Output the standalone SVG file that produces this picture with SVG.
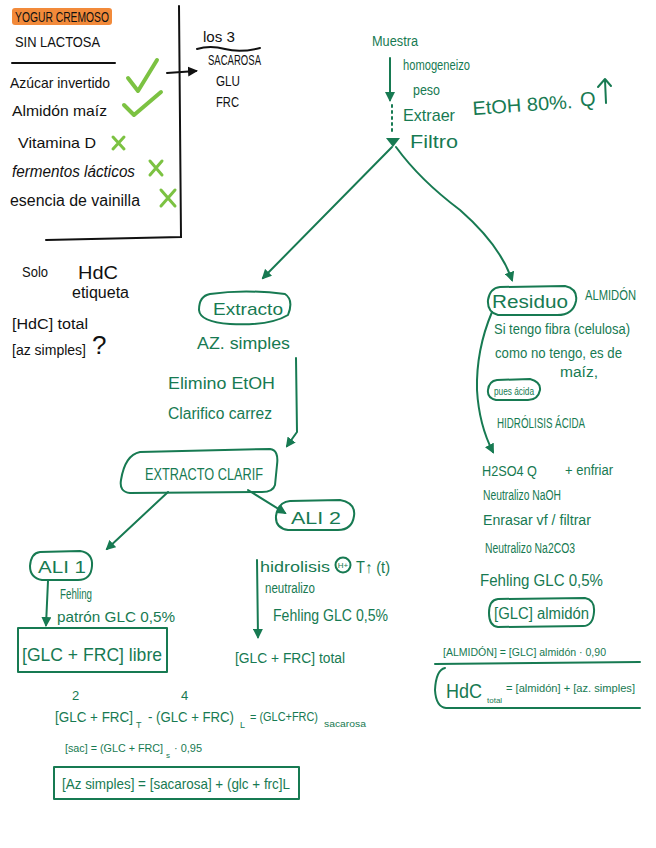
<svg xmlns="http://www.w3.org/2000/svg" width="656" height="848" viewBox="0 0 656 848">
<style>
text{font-family:"Liberation Sans","DejaVu Sans",sans-serif}
.k{fill:#111;font-size:14px}
.g{fill:#177a52;font-size:14px}
.gs{stroke:#177a52;stroke-width:2;fill:none;stroke-linecap:round;stroke-linejoin:round}
.ks{stroke:#111;stroke-width:2;fill:none;stroke-linecap:round}
.ck{stroke:#7cc242;stroke-width:4;fill:none;stroke-linecap:round;stroke-linejoin:round}
.cx{stroke:#7cc242;stroke-width:3;fill:none;stroke-linecap:round}
</style>
<defs>
<marker id="ag" viewBox="0 0 10 10" refX="8" refY="5" markerWidth="5" markerHeight="5" orient="auto-start-reverse"><path d="M0,0L10,5L0,10z" fill="#177a52"/></marker>
<marker id="ak" viewBox="0 0 10 10" refX="8" refY="5" markerWidth="5" markerHeight="5" orient="auto"><path d="M0,0L10,5L0,10z" fill="#111"/></marker>
</defs>
<rect width="656" height="848" fill="#fff"/>

<g id="ingredientes">
<rect x="12" y="8" width="100" height="17" fill="#f28a3a" rx="3"/>
<text class="k" x="15" y="22" textLength="94" lengthAdjust="spacingAndGlyphs">YOGUR CREMOSO</text>
<text class="k" x="15" y="47" textLength="85" lengthAdjust="spacingAndGlyphs">SIN LACTOSA</text>
<line class="ks" x1="12" y1="63" x2="115" y2="63"/>
<text class="k" x="10" y="88" style="font-size:15px" textLength="100" lengthAdjust="spacingAndGlyphs">Azúcar invertido</text>
<path class="ck" d="M128,78L138,91L157,60"/>
<text class="k" x="12" y="116" style="font-size:15px" textLength="95" lengthAdjust="spacingAndGlyphs">Almidón maíz</text>
<path class="ck" d="M124,105L134,115L161,92"/>
<text class="k" x="18" y="148" style="font-size:15px" textLength="78" lengthAdjust="spacingAndGlyphs">Vitamina D</text>
<path class="cx" d="M113,137L124,149M124,137L113,149"/>
<text class="k" x="12" y="177" style="font-size:16px;font-style:italic" textLength="123" lengthAdjust="spacingAndGlyphs">fermentos lácticos</text>
<path class="cx" d="M150,161L162,175M162,161L150,175"/>
<text class="k" x="10" y="206" style="font-size:16px" textLength="130" lengthAdjust="spacingAndGlyphs">esencia de vainilla</text>
<path class="cx" d="M161,190L175,206M175,190L161,206"/>
<path class="ks" d="M179,6L181,237L46,240"/>
</g>

<g id="los3">
<text class="k" x="203" y="42" textLength="32" lengthAdjust="spacingAndGlyphs">los 3</text>
<path class="ks" d="M197,49Q210,45 225,49T260,48" stroke-width="1.5"/>
<text class="k" x="208" y="65" textLength="53" lengthAdjust="spacingAndGlyphs">SACAROSA</text>
<text class="k" x="216" y="86" textLength="24" lengthAdjust="spacingAndGlyphs">GLU</text>
<text class="k" x="216" y="107" textLength="23" lengthAdjust="spacingAndGlyphs">FRC</text>
</g>

<g id="nota">
<text class="k" x="22" y="277" style="font-size:15px" textLength="26" lengthAdjust="spacingAndGlyphs">Solo</text>
<text class="k" x="78" y="279" style="font-size:19px" textLength="40" lengthAdjust="spacingAndGlyphs">HdC</text>
<text class="k" x="72" y="298" style="font-size:16px" textLength="57" lengthAdjust="spacingAndGlyphs">etiqueta</text>
<text class="k" x="12" y="329" textLength="76" lengthAdjust="spacingAndGlyphs">[HdC] total</text>
<text class="k" x="12" y="355" textLength="74" lengthAdjust="spacingAndGlyphs">[az simples]</text>
<text class="k" x="92" y="354" style="font-size:26px">?</text>
</g>

<g id="muestra">
<text class="g" x="372" y="46" textLength="46" lengthAdjust="spacingAndGlyphs">Muestra</text>
<text class="g" x="403" y="70" textLength="67" lengthAdjust="spacingAndGlyphs">homogeneizo</text>
<text class="g" x="413" y="95" textLength="27" lengthAdjust="spacingAndGlyphs">peso</text>
<text class="g" x="403" y="121" style="font-size:17px" textLength="52" lengthAdjust="spacingAndGlyphs">Extraer</text>
<text class="g" x="473" y="115" style="font-size:19px" textLength="100" lengthAdjust="spacingAndGlyphs" transform="rotate(-4 473 115)">EtOH 80%.</text>
<text class="g" x="580" y="106" style="font-size:20px">Q</text>
<path class="gs" d="M606,103L605,80M598,87L605,79L611,86"/>
</g>

<g id="filtro">
<text class="g" x="410" y="148" style="font-size:18px" textLength="48" lengthAdjust="spacingAndGlyphs">Filtro</text>
</g>

<g id="extracto">
<path class="gs" d="M210,294Q245,289 285,294Q294,300 288,315Q270,326 230,324Q200,322 199,310Q199,296 210,294z"/>
<text class="g" x="213" y="315" style="font-size:17px" textLength="70" lengthAdjust="spacingAndGlyphs">Extracto</text>
<text class="g" x="197" y="349" style="font-size:17px" textLength="93" lengthAdjust="spacingAndGlyphs">AZ. simples</text>
<text class="g" x="168" y="389" style="font-size:16px" textLength="107" lengthAdjust="spacingAndGlyphs">Elimino EtOH</text>
<text class="g" x="168" y="419" style="font-size:16px" textLength="104" lengthAdjust="spacingAndGlyphs">Clarifico carrez</text>
</g>

<g id="extracto_clarif">
<path class="gs" d="M140,452L270,449Q279,450 277,465L275,485Q273,492 262,492L130,493Q119,492 121,480Q125,455 140,452z"/>
<text class="g" x="145" y="480" style="font-size:16px" textLength="118" lengthAdjust="spacingAndGlyphs">EXTRACTO CLARIF</text>
</g>

<g id="ali1">
<path class="gs" d="M40,552L80,551Q93,553 92,566Q91,580 78,580L42,580Q30,578 30,566Q31,553 40,552z"/>
<text class="g" x="38" y="573" style="font-size:16px" textLength="48" lengthAdjust="spacingAndGlyphs">ALI 1</text>
<text class="g" x="60" y="599" textLength="32" lengthAdjust="spacingAndGlyphs">Fehling</text>
<text class="g" x="57" y="622" style="font-size:15px" textLength="118" lengthAdjust="spacingAndGlyphs">patrón GLC 0,5%</text>
</g>

<g id="libre">
<rect x="18" y="628" width="149" height="44" class="gs" stroke-width="1.6"/>
<text class="g" x="22" y="661" style="font-size:19px" textLength="140" lengthAdjust="spacingAndGlyphs">[GLC + FRC] libre</text>
</g>

<g id="ali2">
<path class="gs" d="M290,501L340,500Q356,503 354,516Q352,530 338,530L288,530Q275,528 276,516Q278,502 290,501z"/>
<text class="g" x="291" y="524" style="font-size:16px" textLength="50" lengthAdjust="spacingAndGlyphs">ALI 2</text>
<text class="g" x="260" y="572" textLength="70" lengthAdjust="spacingAndGlyphs">hidrolisis</text>
<circle cx="343" cy="565" r="7.5" class="gs" stroke-width="1.4"/>
<text class="g" x="343" y="568" style="font-size:8px" text-anchor="middle">H+</text>
<text class="g" x="356" y="573" style="font-size:16px" textLength="34" lengthAdjust="spacingAndGlyphs">T↑ (t)</text>
<text class="g" x="265" y="593" textLength="50" lengthAdjust="spacingAndGlyphs">neutralizo</text>
<text class="g" x="273" y="621" style="font-size:16px" textLength="115" lengthAdjust="spacingAndGlyphs">Fehling GLC 0,5%</text>
<text class="g" x="235" y="663" textLength="110" lengthAdjust="spacingAndGlyphs">[GLC + FRC] total</text>
</g>

<g id="residuo">
<path class="gs" d="M500,287L565,286Q578,289 576,301Q573,316 555,315L498,315Q487,312 488,300Q490,288 500,287z"/>
<text class="g" x="492" y="308" style="font-size:18px" textLength="76" lengthAdjust="spacingAndGlyphs">Residuo</text>
<text class="g" x="585" y="300" textLength="51" lengthAdjust="spacingAndGlyphs">ALMIDÓN</text>
<text class="g" x="494" y="334" textLength="136" lengthAdjust="spacingAndGlyphs">Si tengo fibra (celulosa)</text>
<text class="g" x="495" y="358" textLength="127" lengthAdjust="spacingAndGlyphs">como no tengo, es de</text>
<text class="g" x="560" y="377" textLength="38" lengthAdjust="spacingAndGlyphs">maíz,</text>
<path class="gs" d="M497,380L530,379Q541,382 540,390Q538,400 528,400L496,400Q487,398 488,390Q489,381 497,380z"/>
<text class="g" x="494" y="395" style="font-size:11px" textLength="40" lengthAdjust="spacingAndGlyphs">pues ácida</text>
<text class="g" x="497" y="428" textLength="88" lengthAdjust="spacingAndGlyphs">HIDRÓLISIS ÁCIDA</text>
</g>

<g id="hidrolisis_acida">
<text class="g" x="482" y="476" textLength="55" lengthAdjust="spacingAndGlyphs">H2SO4 Q</text>
<text class="g" x="565" y="475" textLength="48" lengthAdjust="spacingAndGlyphs">+ enfriar</text>
<text class="g" x="483" y="500" textLength="78" lengthAdjust="spacingAndGlyphs">Neutralizo NaOH</text>
<text class="g" x="483" y="525" textLength="108" lengthAdjust="spacingAndGlyphs">Enrasar vf / filtrar</text>
<text class="g" x="485" y="553" textLength="90" lengthAdjust="spacingAndGlyphs">Neutralizo Na2CO3</text>
<text class="g" x="480" y="586" style="font-size:16px" textLength="123" lengthAdjust="spacingAndGlyphs">Fehling GLC 0,5%</text>
</g>

<g id="glc_almidon">
<path class="gs" d="M498,599L585,598Q595,600 594,612Q593,626 583,626L498,627Q489,626 489,613Q489,600 498,599z"/>
<text class="g" x="494" y="619" style="font-size:16px" textLength="95" lengthAdjust="spacingAndGlyphs">[GLC] almidón</text>
</g>

<g id="almidon_calc">
<text class="g" x="443" y="656" style="font-size:11px" textLength="163" lengthAdjust="spacingAndGlyphs">[ALMIDÓN] = [GLC] almidón · 0,90</text>
<path class="gs" d="M435,664L640,662" stroke-width="1.5"/>
</g>

<g id="hdc_total">
<path class="gs" d="M445,668Q436,670 435,690Q436,707 446,708L640,708" stroke-width="1.8"/>
<text class="g" x="446" y="698" style="font-size:20px" textLength="36" lengthAdjust="spacingAndGlyphs">HdC</text>
<text class="g" x="487" y="703" style="font-size:8px">total</text>
<text class="g" x="506" y="692" style="font-size:11px" textLength="129" lengthAdjust="spacingAndGlyphs">= [almidón] + [az. simples]</text>
</g>

<g id="calculos">
<text class="g" x="72" y="700" style="font-size:13px">2</text>
<text class="g" x="181" y="700" style="font-size:13px">4</text>
<text class="g" x="55" y="722" style="font-size:14px" textLength="78" lengthAdjust="spacingAndGlyphs">[GLC + FRC]</text>
<text class="g" x="136" y="728" style="font-size:9px">T</text>
<text class="g" x="148" y="722" style="font-size:14px" textLength="86" lengthAdjust="spacingAndGlyphs">- (GLC + FRC)</text>
<text class="g" x="240" y="728" style="font-size:9px">L</text>
<text class="g" x="250" y="721" style="font-size:12px" textLength="68" lengthAdjust="spacingAndGlyphs">= (GLC+FRC)</text>
<text class="g" x="324" y="727" style="font-size:9px" textLength="42" lengthAdjust="spacingAndGlyphs">sacarosa</text>
<text class="g" x="65" y="752" style="font-size:11px" textLength="98" lengthAdjust="spacingAndGlyphs">[sac] = (GLC + FRC]</text>
<text class="g" x="166" y="758" style="font-size:8px">s</text>
<text class="g" x="174" y="752" style="font-size:11px" textLength="28" lengthAdjust="spacingAndGlyphs">· 0,95</text>
<rect x="54" y="767" width="245" height="32" class="gs" stroke-width="1.6"/>
<text class="g" x="62" y="789" style="font-size:15px" textLength="228" lengthAdjust="spacingAndGlyphs">[Az simples] = [sacarosa] + (glc + frc]L</text>
</g>

<g id="conectores">
<path class="ks" d="M167,73L196,71" marker-end="url(#ak)"/>
<path class="gs" d="M390,58L390,100" marker-end="url(#ag)"/>
<path class="gs" d="M392,105L392,132" stroke-dasharray="2,4" stroke-width="1.5"/>
<path d="M386,138L400,138L393,147z" fill="#177a52"/>
<path class="gs" d="M392,147L263,278" marker-end="url(#ag)"/>
<path class="gs" d="M396,147Q420,180 460,210Q500,245 512,280" marker-end="url(#ag)"/>
<path class="gs" d="M296,358L297,432L287,446" marker-end="url(#ag)"/>
<path class="gs" d="M248,490L285,513" stroke-width="3.5" marker-end="url(#ag)"/>
<path class="gs" d="M168,492L107,549" marker-end="url(#ag)"/>
<path class="gs" d="M48,581L46,625" marker-end="url(#ag)"/>
<path class="gs" d="M257,560L258,637" marker-end="url(#ag)"/>
<path class="gs" d="M492,312Q476,350 477,390Q479,425 493,452" marker-end="url(#ag)"/>
</g>
</svg>
